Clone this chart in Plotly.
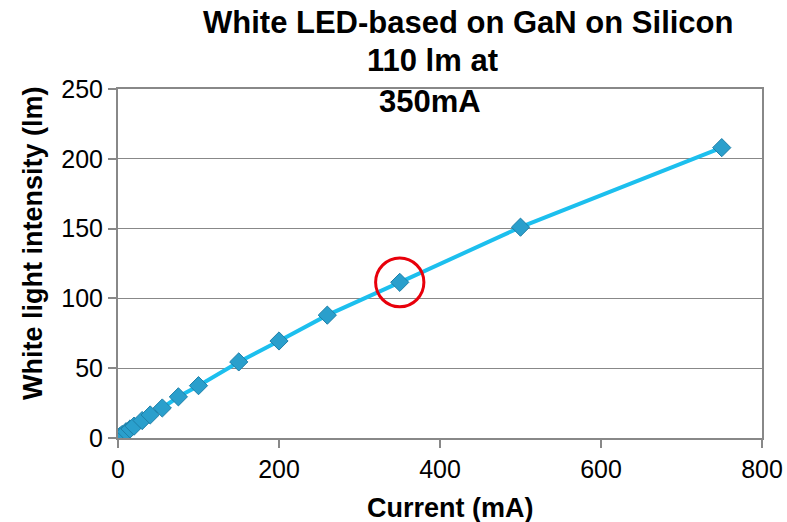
import plotly.graph_objects as go

current_ma = [0, 2, 5, 10, 15, 20, 30, 40, 55, 75, 100, 150, 200, 260, 350, 500, 750]
intensity_lm = [0, 1, 2.5, 4.5, 6.5, 8.5, 12.5, 16.5, 21.5, 29.5, 37.5, 54.5, 69.5, 88, 111.5, 151, 208]

highlight_x = 350
highlight_y = 111.5

fig = go.Figure()
fig.add_trace(go.Scatter(
    x=current_ma, y=intensity_lm, mode="lines+markers",
    line=dict(color="#1cbfee", width=4),
    marker=dict(symbol="diamond", size=14, color="#2a9fcc",
                line=dict(color="#1e7fa8", width=1)),
    showlegend=False,
))

fig.add_shape(type="circle", xref="x", yref="y",
              x0=highlight_x - 30, x1=highlight_x + 30,
              y0=highlight_y - 17.5, y1=highlight_y + 17.5,
              line=dict(color="#e8000b", width=3))

font = "Liberation Sans, Arial, sans-serif"
L, R, T, B = 118, 762, 89, 438


def px(xp):
    return (xp - L) / (R - L)


def py(yp):
    return (B - yp) / (B - T)


for txt, xp, yp in [("White LED-based on GaN on Silicon", 468, 23),
                    ("110 lm at", 432, 61),
                    ("350mA", 430, 101)]:
    fig.add_annotation(text="<b>%s</b>" % txt, xref="paper", yref="paper",
                       x=px(xp), y=py(yp), xanchor="center", yanchor="middle",
                       showarrow=False, font=dict(size=31, color="black", family=font))

fig.add_annotation(text="<b>Current (mA)</b>", xref="paper", yref="paper",
                   x=px(450), y=py(508), xanchor="center", yanchor="middle",
                   showarrow=False, font=dict(size=27, color="black", family=font))
fig.add_annotation(text="<b>White light intensity (lm)</b>", xref="paper", yref="paper",
                   x=px(33), y=py(244), xanchor="center", yanchor="middle", textangle=-90,
                   showarrow=False, font=dict(size=27, color="black", family=font))

axis_common = dict(showline=True, linecolor="#888888", linewidth=2, mirror=True,
                   ticks="outside", ticklen=8, tickcolor="#888888", tickwidth=2,
                   tickfont=dict(size=25, color="black", family=font),
                   zeroline=False, automargin=False)
fig.update_xaxes(range=[0, 800], dtick=200, showgrid=False, **axis_common)
fig.update_yaxes(range=[0, 250], dtick=50, showgrid=True, gridcolor="#888888", gridwidth=1,
                 **axis_common)

fig.update_layout(width=787, height=522, plot_bgcolor="white", paper_bgcolor="white",
                  margin=dict(l=L, r=787 - R, t=T, b=522 - B),
                  font=dict(family=font))

fig.write_html("out.html")
